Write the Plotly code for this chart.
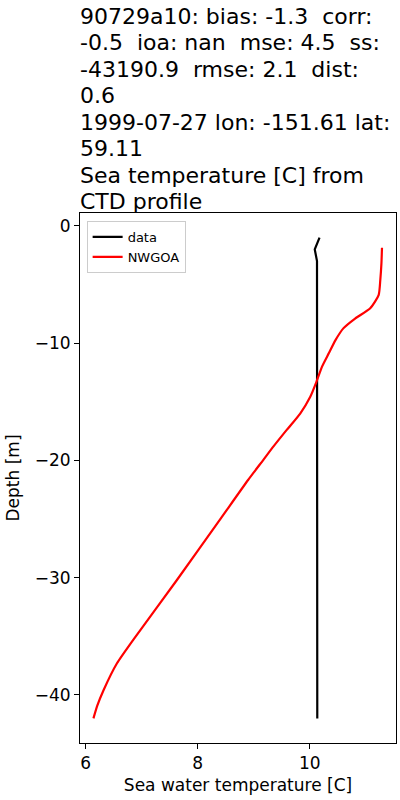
import plotly.graph_objects as go

# Observed CTD profile ("data")
data_temp = [10.175, 10.09, 10.13, 10.13, 10.135, 10.14, 10.14, 10.14, 10.14, 10.135, 10.135]
data_depth = [-1, -2, -3, -6, -10, -15, -20, -25, -30, -36, -42]

# Model profile ("NWGOA")
model_temp = [11.29, 11.28, 11.26, 11.23, 11.08, 10.81, 10.60, 10.46, 10.34, 10.22, 10.12,
              10.01, 9.83, 9.59, 9.35, 9.17, 8.90, 8.42, 7.63, 6.85, 6.56, 6.32, 6.21, 6.14]
model_depth = [-1.87, -3.2, -4.6, -5.9, -7.03, -7.9, -8.74, -9.74, -10.87, -12.0, -13.3,
               -14.57, -16.0, -17.4, -18.83, -19.97, -21.67, -24.9, -30.2, -35.3, -37.3, -39.6,
               -40.9, -42.0]

title_lines = [
    "90729a10: bias: -1.3  corr:",
    "-0.5  ioa: nan  mse: 4.5  ss:",
    "-43190.9  rmse: 2.1  dist:",
    "0.6",
    "1999-07-27 lon: -151.61 lat:",
    "59.11",
    "Sea temperature [C] from",
    "CTD profile",
]

x_ticks = [6, 8, 10]
y_ticks = [0, -10, -20, -30, -40]

font = "DejaVu Sans"
plot_top = 213
line_gap = 26.43
first_center = 16.5

fig = go.Figure()
fig.add_trace(go.Scatter(x=data_temp, y=data_depth, mode="lines", name="data",
                         line=dict(color="black", width=2.2)))
fig.add_trace(go.Scatter(x=model_temp, y=model_depth, mode="lines", name="NWGOA",
                         line=dict(color="red", width=2.2, shape="spline", smoothing=0.6)))

for i, t in enumerate(title_lines):
    center = first_center + i * line_gap
    fig.add_annotation(
        text=t.replace("  ", "&nbsp; "),
        xref="paper", yref="paper", x=0, y=1.0, xanchor="left", yanchor="middle",
        align="left", showarrow=False, yshift=plot_top - center, xshift=-2,
        font=dict(family=font, size=22, color="black"),
    )

axis_common = dict(showline=True, mirror=True, linecolor="black", linewidth=1,
                   ticks="outside", ticklen=5, tickcolor="black", showgrid=False,
                   zeroline=False, automargin=False,
                   tickfont=dict(family=font, size=17, color="black"))

fig.update_xaxes(range=[5.9, 11.54], tickvals=x_ticks,
                 ticktext=[str(v) for v in x_ticks],
                 title=dict(text="Sea water temperature [C]", standoff=6,
                            font=dict(family=font, size=17, color="black")),
                 **axis_common)
fig.update_yaxes(range=[-44.1, 1.1], tickvals=y_ticks,
                 ticktext=["\u2212" + str(-v) if v < 0 else str(v) for v in y_ticks],
                 title=dict(text="Depth [m]", standoff=10,
                            font=dict(family=font, size=17, color="black")),
                 **axis_common)

fig.update_layout(
    width=400, height=800,
    margin=dict(l=80, r=4, t=213, b=57),
    plot_bgcolor="white", paper_bgcolor="white",
    legend=dict(x=0.021, y=0.985, xanchor="left", yanchor="top",
                bgcolor="rgba(255,255,255,0.8)", bordercolor="#cccccc", borderwidth=1,
                font=dict(family=font, size=13, color="black"),
                tracegroupgap=0),
    font=dict(family=font),
)

fig.write_html("out.html", config={"displayModeBar": False},
               post_script="document.body.style.margin='0';document.body.style.overflow='hidden';")
